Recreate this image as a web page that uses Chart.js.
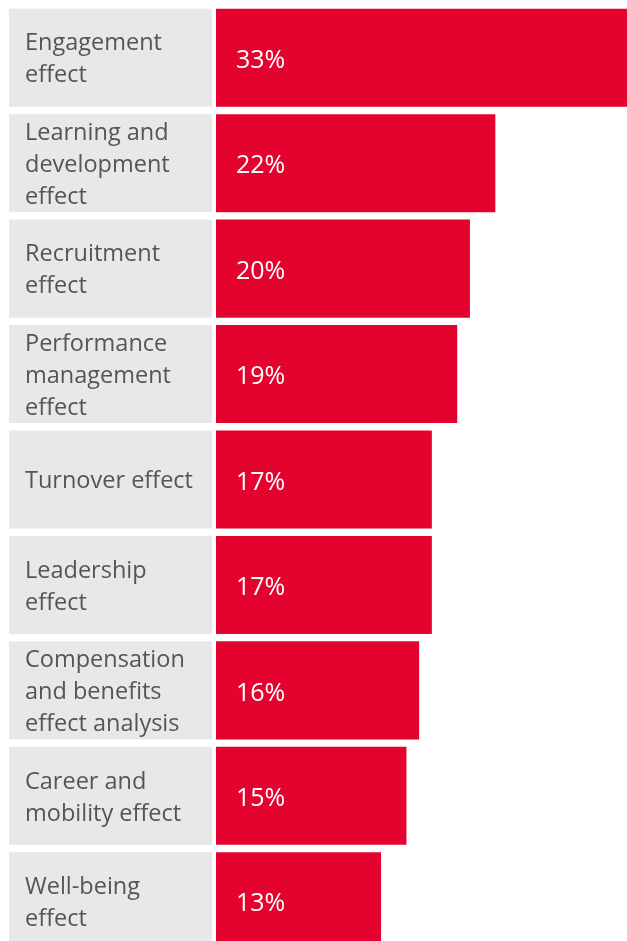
<!DOCTYPE html>
<html>
<head>
<meta charset="utf-8">
<script src="https://cdn.jsdelivr.net/npm/chart.js@4"></script>
<style>
  html, body { margin: 0; padding: 0; background: #fff; overflow: hidden; }
  #wrap { width: 640px; height: 960px; }
</style>
</head>
<body>
<div id="wrap"><canvas id="effects" width="640" height="960"></canvas></div>
<script>
  const categories = [
    ["Engagement", "effect"],
    ["Learning and", "development", "effect"],
    ["Recruitment", "effect"],
    ["Performance", "management", "effect"],
    ["Turnover effect"],
    ["Leadership", "effect"],
    ["Compensation", "and benefits", "effect analysis"],
    ["Career and", "mobility effect"],
    ["Well-being", "effect"]
  ];
  const shares = [33, 22, 20, 19, 17, 17, 16, 15, 13];

  const RED = "#e4032e";
  const GREY_BOX = "#e8e8e8";
  const LABEL_COLOR = "#555555";
  const FONT = "'Open Sans', sans-serif";

  // grey label panel on the left of every bar, plus the row text
  const labelPanels = {
    id: "labelPanels",
    beforeDatasetsDraw(chart) {
      const ctx = chart.ctx;
      const bars = chart.getDatasetMeta(0).data;
      ctx.save();
      ctx.font = "23.5px " + FONT;
      ctx.textBaseline = "middle";
      ctx.textAlign = "left";
      const lh = 32;
      bars.forEach((bar, i) => {
        const top = bar.y - bar.height / 2;
        ctx.fillStyle = GREY_BOX;
        ctx.fillRect(9, top, 203, bar.height);
        const lines = categories[i];
        ctx.fillStyle = LABEL_COLOR;
        const start = bar.y - (lines.length - 1) * lh / 2;
        lines.forEach((ln, k) => ctx.fillText(ln, 25, start + k * lh + 2));
      });
      ctx.restore();
    },
    afterDatasetsDraw(chart) {
      const ctx = chart.ctx;
      const bars = chart.getDatasetMeta(0).data;
      ctx.save();
      ctx.font = "25px " + FONT;
      ctx.textBaseline = "middle";
      ctx.fillStyle = "#ffffff";
      bars.forEach((bar, i) => {
        ctx.fillText(shares[i] + "%", bar.base + 20, bar.y + 3);
      });
      ctx.restore();
    }
  };

  new Chart(document.getElementById("effects").getContext("2d"), {
    type: "bar",
    data: {
      labels: categories,
      datasets: [{
        data: shares,
        backgroundColor: RED,
        borderWidth: 0,
        barPercentage: 0.93,
        categoryPercentage: 1
      }]
    },
    options: {
      indexAxis: "y",
      responsive: false,
      animation: false,
      layout: { padding: { left: 216, right: 5, top: 5, bottom: 6 } },
      plugins: {
        legend: { display: false },
        tooltip: { enabled: false }
      },
      scales: {
        x: { display: false, min: 0, max: 33, grid: { display: false } },
        y: { display: false, grid: { display: false } }
      }
    },
    plugins: [labelPanels]
  });
</script>
</body>
</html>
